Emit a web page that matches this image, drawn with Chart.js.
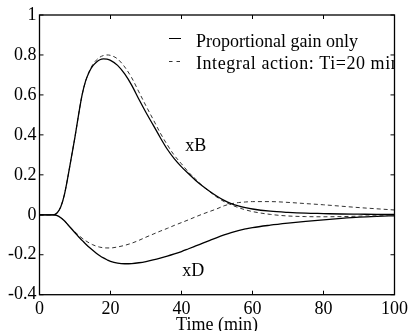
<!DOCTYPE html>
<html>
<head>
<meta charset="utf-8">
<script src="https://cdn.jsdelivr.net/npm/chart.js@4"></script>
<style>
html,body{margin:0;padding:0;background:#fff;}
canvas{display:block;}
</style>
</head>
<body>
<canvas id="c" width="412" height="331"></canvas>
<script>
// time (min)
const time = [0,2,4,5,6,7,8,9,10,11,12,13,14,15,16,17,18,19,20,22,24,26,28,30,32,34,36,38,40,42,44,46,48,50,52,54,56,58,60,65,70,75,80,85,90,95,100];
// xB, proportional gain only (solid)
const xB_P  = [0,0,0,0.01,0.04,0.10,0.19,0.29,0.39,0.50,0.60,0.67,0.715,0.745,0.764,0.776,0.78,0.779,0.773,0.748,0.705,0.648,0.578,0.512,0.450,0.387,0.328,0.280,0.240,0.205,0.172,0.143,0.117,0.093,0.072,0.056,0.045,0.036,0.029,0.018,0.012,0.008,0.006,0.004,0.003,0.002,0.002];
// xB, integral action Ti=20 min (dashed)
const xB_PI = [0,0,0,0.01,0.04,0.10,0.19,0.29,0.39,0.50,0.60,0.67,0.717,0.752,0.774,0.789,0.797,0.80,0.798,0.78,0.74,0.685,0.615,0.545,0.478,0.410,0.350,0.297,0.255,0.213,0.178,0.143,0.115,0.088,0.066,0.050,0.036,0.025,0.016,0.002,-0.006,-0.009,-0.010,-0.009,-0.007,-0.005,-0.003];
// xD, proportional gain only (solid)
const xD_P  = [0,0,0,-0.004,-0.015,-0.03,-0.05,-0.07,-0.09,-0.11,-0.128,-0.146,-0.163,-0.178,-0.192,-0.205,-0.216,-0.225,-0.233,-0.242,-0.245,-0.244,-0.240,-0.234,-0.226,-0.217,-0.207,-0.196,-0.184,-0.170,-0.156,-0.142,-0.128,-0.114,-0.101,-0.089,-0.079,-0.071,-0.064,-0.052,-0.042,-0.033,-0.025,-0.018,-0.012,-0.008,-0.005];
// xD, integral action Ti=20 min (dashed)
const xD_PI = [0,0,0,-0.004,-0.015,-0.03,-0.05,-0.068,-0.086,-0.102,-0.117,-0.13,-0.141,-0.150,-0.157,-0.162,-0.165,-0.166,-0.166,-0.161,-0.153,-0.142,-0.128,-0.112,-0.097,-0.082,-0.068,-0.053,-0.039,-0.025,-0.010,0.004,0.017,0.030,0.045,0.055,0.061,0.064,0.066,0.066,0.062,0.056,0.050,0.043,0.036,0.030,0.024];

const xTicks = [0,20,40,60,80,100];
const yTicks = [-0.4,-0.2,0,0.2,0.4,0.6,0.8,1];
const seriesLabels = ['Proportional gain only','Integral action: Ti=20 min'];
const curveLabels = [{text:'xB', t:44.0, v:0.344},{text:'xD', t:43.3, v:-0.281}];

const FONT = '"Liberation Serif", "Times New Roman", serif';

function pts(ys){ return time.map((t,i)=>({x:t,y:ys[i]})); }

const decor = {
  id:'decor',
  afterDatasetsDraw(chart){
    const {ctx, chartArea:a, scales:{x,y}} = chart;
    ctx.save();
    // frame
    ctx.strokeStyle='#000'; ctx.lineWidth=1.3;
    ctx.strokeRect(a.left, a.top, a.right-a.left, a.bottom-a.top);
    // inward ticks
    ctx.lineWidth=1;
    const L=4;
    ctx.beginPath();
    xTicks.forEach(v=>{
      const px=x.getPixelForValue(v);
      ctx.moveTo(px,a.bottom); ctx.lineTo(px,a.bottom-L);
      ctx.moveTo(px,a.top); ctx.lineTo(px,a.top+L);
    });
    yTicks.forEach(v=>{
      const py=y.getPixelForValue(v);
      ctx.moveTo(a.left,py); ctx.lineTo(a.left+L,py);
      ctx.moveTo(a.right,py); ctx.lineTo(a.right-L,py);
    });
    ctx.stroke();
    // curve labels
    ctx.fillStyle='#000';
    ctx.font='18px '+FONT;
    ctx.textAlign='center'; ctx.textBaseline='middle';
    curveLabels.forEach(c=>{
      ctx.fillText(c.text, x.getPixelForValue(c.t), y.getPixelForValue(c.v));
    });
    // legend (clipped to plot area)
    ctx.beginPath();
    ctx.rect(a.left, a.top, a.right-a.left, a.bottom-a.top);
    ctx.clip();
    const lx0=169, lx1=181, tx=196;
    const rows=[{ly:38.5, by:46.5, dash:[], sp:'0px'},{ly:61.5, by:69, dash:[3.5,4], sp:'0.55px'}];
    rows.forEach((r,i)=>{
      ctx.setLineDash(r.dash);
      ctx.strokeStyle=i===0?'#000':'#333';
      ctx.lineWidth=1;
      ctx.beginPath(); ctx.moveTo(lx0,r.ly); ctx.lineTo(lx1,r.ly); ctx.stroke();
      ctx.setLineDash([]);
      ctx.textAlign='left'; ctx.textBaseline='alphabetic';
      if ('letterSpacing' in ctx) ctx.letterSpacing = r.sp;
      ctx.fillText(seriesLabels[i], tx, r.by);
    });
    if ('letterSpacing' in ctx) ctx.letterSpacing = '0px';
    ctx.restore();
  }
};

new Chart(document.getElementById('c'), {
  type:'line',
  data:{
    datasets:[
      {label:'xB '+seriesLabels[0], data:pts(xB_P), borderColor:'#000', borderWidth:1.3},
      {label:'xB '+seriesLabels[1], data:pts(xB_PI), borderColor:'#333', borderWidth:1, borderDash:[4,3]},
      {label:'xD '+seriesLabels[0], data:pts(xD_P), borderColor:'#000', borderWidth:1.3},
      {label:'xD '+seriesLabels[1], data:pts(xD_PI), borderColor:'#333', borderWidth:1, borderDash:[4,3]}
    ]
  },
  options:{
    responsive:false,
    animation:false,
    devicePixelRatio:1,
    layout:{padding:{top:15,right:15.3,left:0,bottom:0}},
    elements:{point:{radius:0}, line:{tension:0.4, cubicInterpolationMode:'monotone', fill:false}},
    plugins:{legend:{display:false}, tooltip:{enabled:false}},
    scales:{
      x:{
        type:'linear', min:0, max:100,
        afterBuildTicks(s){ s.ticks = xTicks.map(v=>({value:v})); },
        afterFit(s){ s.height = 36.3; },
        grid:{display:false, drawTicks:false},
        border:{display:false},
        ticks:{color:'#000', padding:4, maxRotation:0, autoSkip:false, font:{family:FONT, size:18}, callback:v=>String(v)},
        title:{display:true, text:'Time (min)', color:'#000', padding:0, font:{family:FONT, size:18, lineHeight:0.6}}
      },
      y:{
        type:'linear', min:-0.4, max:1,
        afterBuildTicks(s){ s.ticks = yTicks.map(v=>({value:v})); },
        afterFit(s){ s.width = 39.5; },
        grid:{display:false, drawTicks:false},
        border:{display:false},
        ticks:{color:'#000', padding:3, autoSkip:false, font:{family:FONT, size:18}, callback:v=>String(v)}
      }
    }
  },
  plugins:[decor]
});
</script>
</body>
</html>
